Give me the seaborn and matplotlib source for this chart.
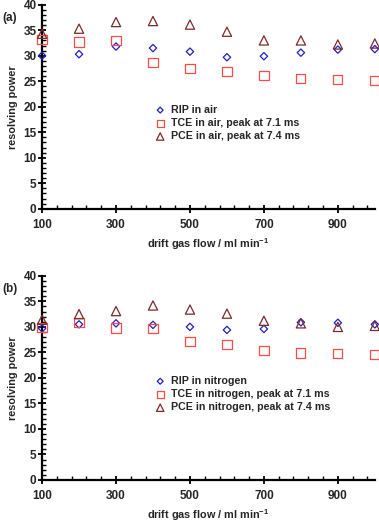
import numpy as np
import pandas as pd
import seaborn as sns
import matplotlib.pyplot as plt
from matplotlib.ticker import MultipleLocator, FixedLocator

sns.set_theme(style="white")
plt.rcParams['font.family'] = ['Liberation Sans', 'DejaVu Sans']
plt.rcParams['font.weight'] = 'bold'
plt.rcParams['mathtext.fontset'] = 'custom'
plt.rcParams['mathtext.rm'] = 'Liberation Sans:bold'
plt.rcParams['mathtext.bf'] = 'Liberation Sans:bold'

# drift gas flow (ml/min)
flow = [100, 200, 300, 400, 500, 600, 700, 800, 900, 1000]

# (a) air
rip_air = [30.0, 30.3, 31.8, 31.5, 30.8, 29.7, 29.9, 30.6, 31.2, 31.3]
tce_air = [33.2, 32.7, 33.0, 28.6, 27.5, 26.9, 26.2, 25.5, 25.4, 25.2]
pce_air = [34.3, 35.3, 36.6, 36.8, 36.1, 34.7, 33.0, 33.0, 32.2, 32.4]

# (b) nitrogen
rip_n2 = [29.7, 30.5, 30.7, 30.4, 30.0, 29.4, 29.6, 30.9, 30.8, 30.5]
tce_n2 = [29.9, 30.8, 29.8, 29.7, 27.2, 26.6, 25.4, 24.9, 24.8, 24.6]
pce_n2 = [31.4, 32.5, 33.1, 34.2, 33.4, 32.6, 31.2, 30.7, 30.0, 30.2]

colors = {'RIP': '#2020c0', 'TCE': '#ff4a4a', 'PCE': '#7a2a2a'}
markers = {'RIP': 'D', 'TCE': 's', 'PCE': '^'}
sizes = {'RIP': 14, 'TCE': 44, 'PCE': 44}

fig = plt.figure(figsize=(3.79, 5.22), dpi=100)
ax_a = fig.add_axes([0.111, 0.600, 0.878, 0.391])
ax_b = fig.add_axes([0.111, 0.0805, 0.878, 0.391])

panels = [
    (ax_a, '(a)', 'air', rip_air, tce_air, pce_air),
    (ax_b, '(b)', 'nitrogen', rip_n2, tce_n2, pce_n2),
]

for ax, tag, gas, rip, tce, pce in panels:
    df = pd.DataFrame({
        'flow': flow * 3,
        'rp': rip + tce + pce,
        'series': (['RIP in ' + gas] * len(flow)
                   + ['TCE in ' + gas + ', peak at 7.1 ms'] * len(flow)
                   + ['PCE in ' + gas + ', peak at 7.4 ms'] * len(flow)),
        'key': ['RIP'] * len(flow) + ['TCE'] * len(flow) + ['PCE'] * len(flow),
    })
    for key, grp in df.groupby('key', sort=False):
        sns.scatterplot(data=grp, x='flow', y='rp', ax=ax, marker=markers[key],
                        s=sizes[key], facecolor='none', edgecolor=colors[key],
                        linewidth=0.9, label=grp['series'].iloc[0], clip_on=False,
                        zorder=3)
    ax.set_xlim(100, 1000)
    ax.set_ylim(0, 40)
    ax.xaxis.set_major_locator(FixedLocator([100, 300, 500, 700, 900]))
    ax.xaxis.set_minor_locator(FixedLocator(np.arange(140, 1000, 40)))
    ax.yaxis.set_major_locator(MultipleLocator(5))
    ax.yaxis.set_minor_locator(MultipleLocator(1))
    ax.tick_params(which='both', bottom=True, left=True, top=False, right=False)
    ax.tick_params(which='major', direction='inout', length=6, width=1.3,
                   labelsize=8.5, color='black', pad=1)
    ax.tick_params(which='minor', direction='in', length=3, width=1.0,
                   color='black')
    ax.tick_params(axis='x', which='major', pad=4)
    for s in ['top', 'right']:
        ax.spines[s].set_visible(False)
    for s in ['left', 'bottom']:
        ax.spines[s].set_color('black')
        ax.spines[s].set_linewidth(1.6)
    ax.set_xlabel('drift gas flow / ml min$^{-1}$', fontsize=7.8,
                  fontweight='bold', labelpad=4)
    ax.set_ylabel('resolving power', fontsize=7.8, fontweight='bold', labelpad=4)
    for lab in ax.get_xticklabels() + ax.get_yticklabels():
        lab.set_fontweight('bold')
    ax.text(-0.12, 0.92, tag, transform=ax.transAxes, fontsize=8.5,
            fontweight='bold')
    leg = ax.legend(loc='upper left', bbox_to_anchor=(0.31, 0.53), frameon=False,
                    fontsize=7.7, handletextpad=0.0, borderaxespad=0,
                    labelspacing=0.3, markerscale=0.8)
    for t in leg.get_texts():
        t.set_fontweight('bold')

fig.savefig('out.png', dpi=100)
